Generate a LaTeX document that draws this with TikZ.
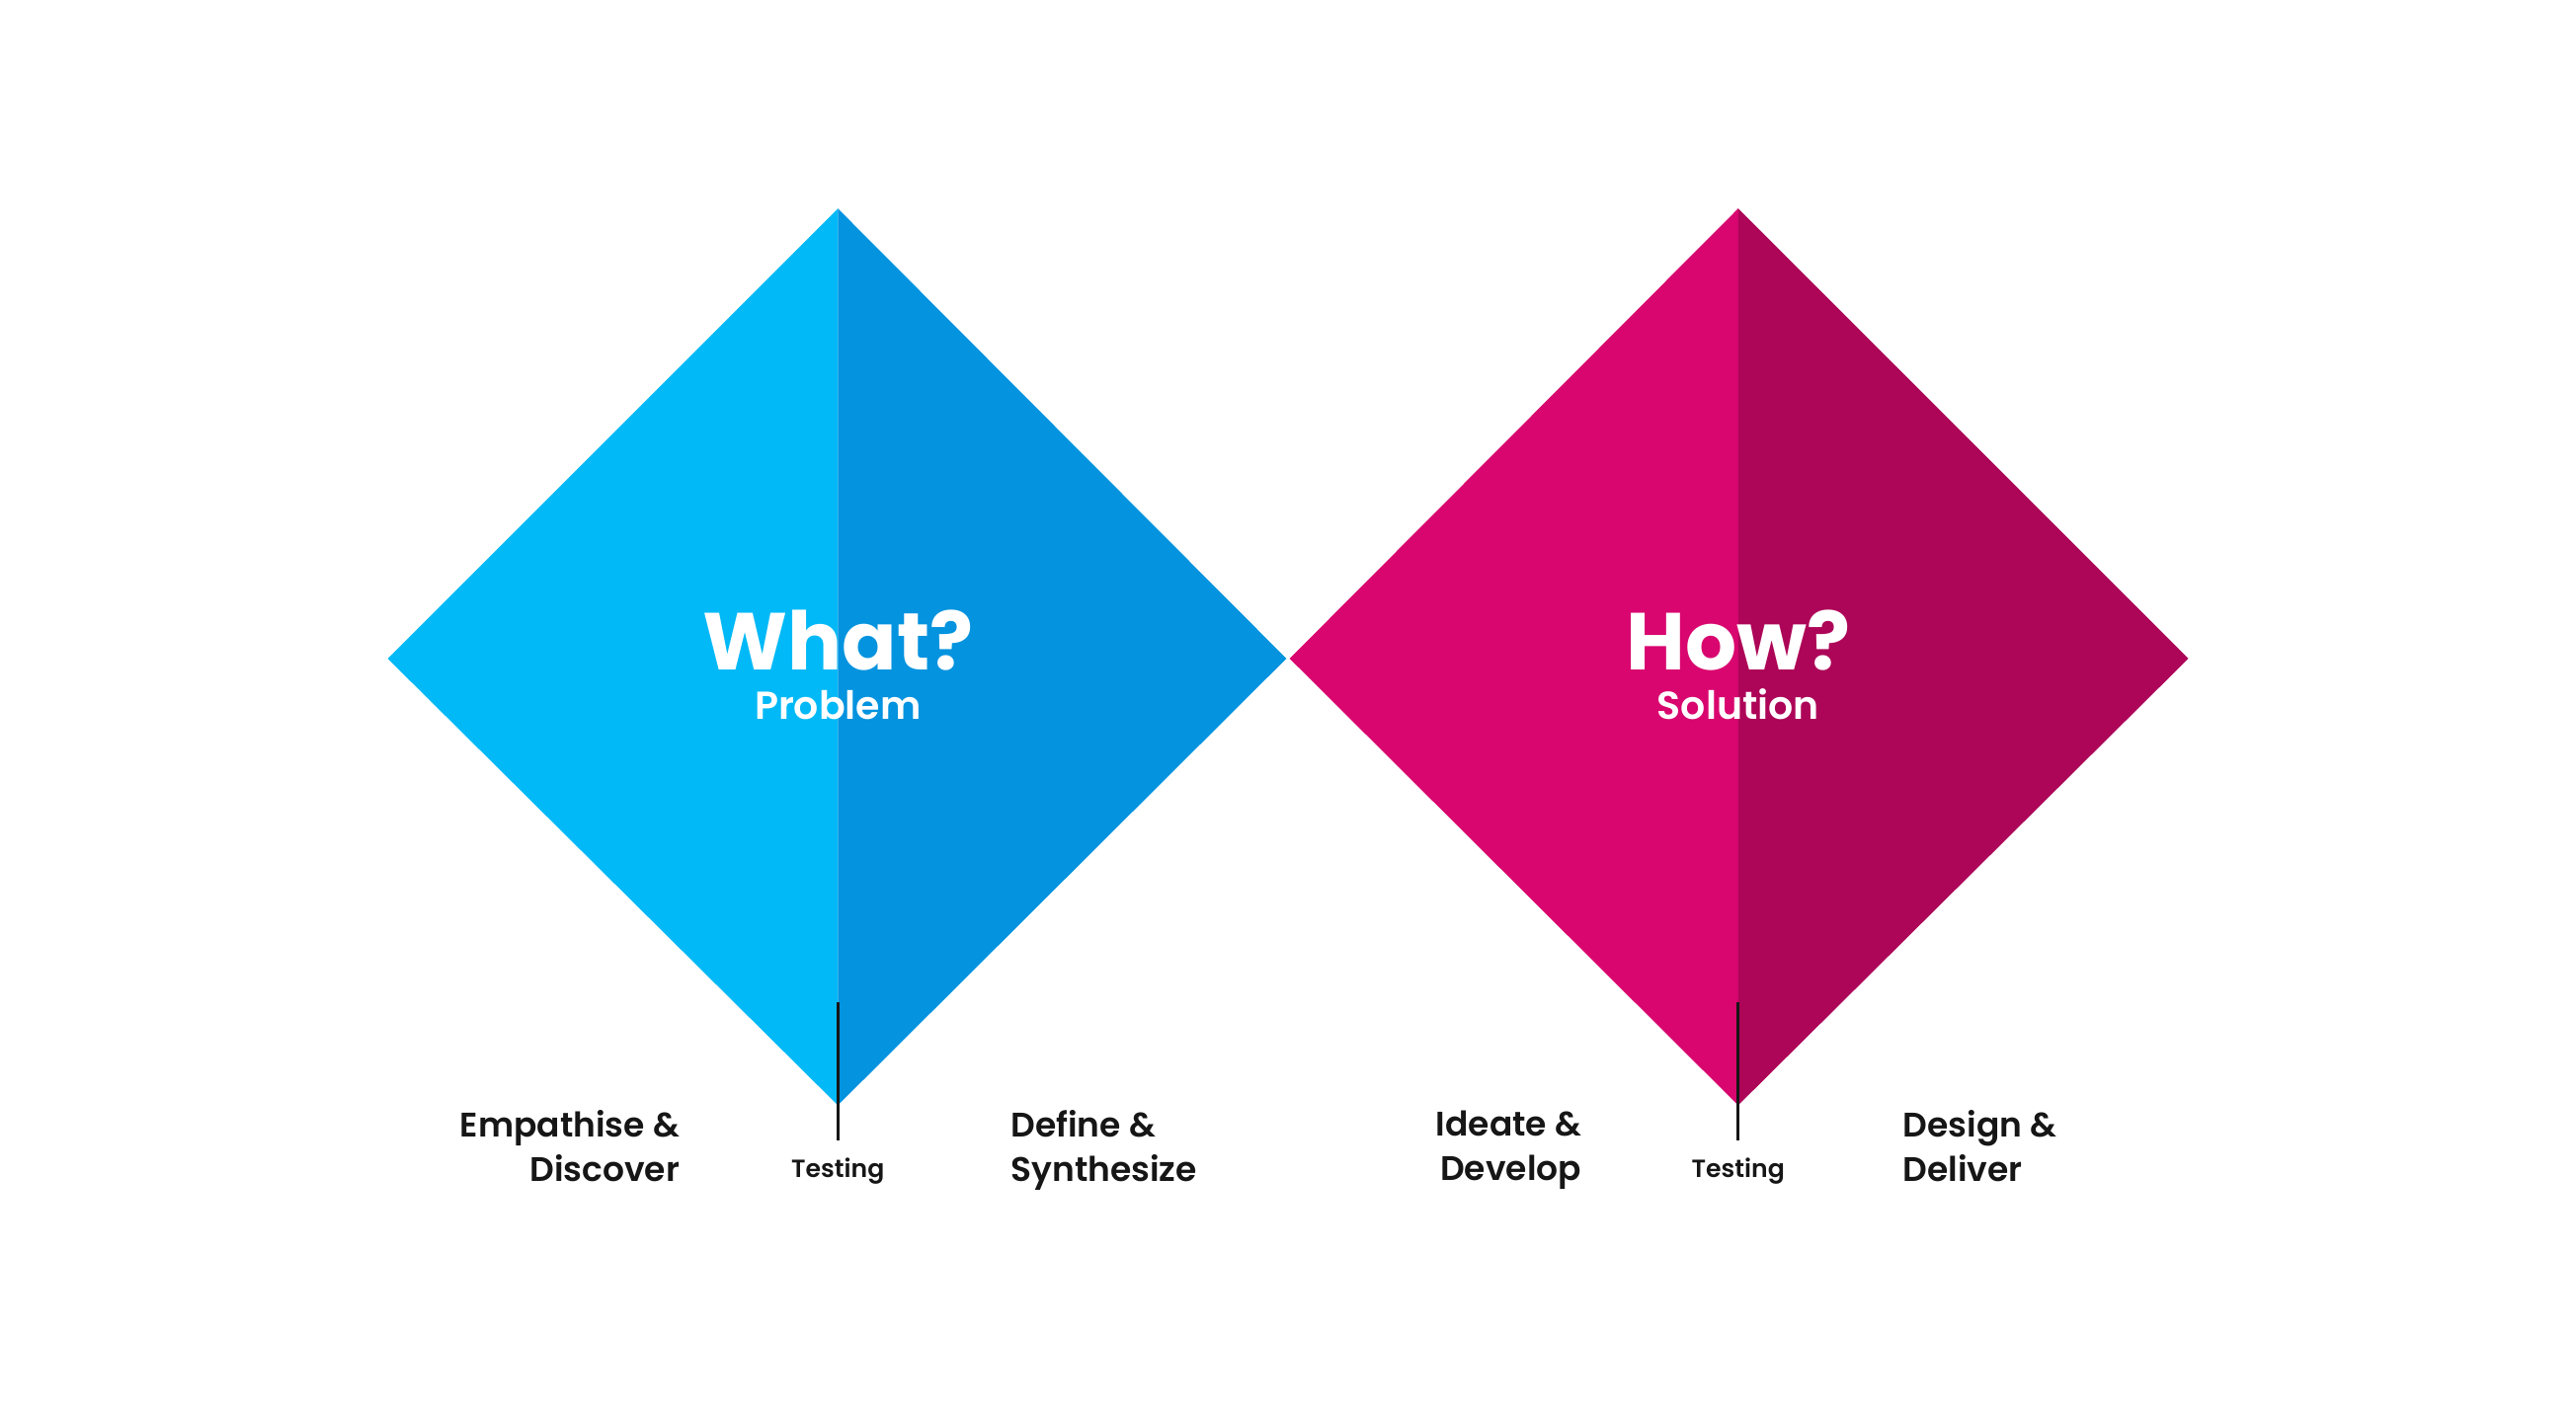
\documentclass[tikz,border=0pt]{standalone}
\usepackage{fontspec}
\setmainfont{Poppins}
\newfontfamily\semibold{Poppins SemiBold}
\definecolor{skyblue}{HTML}{02B9F7}
\definecolor{deepblue}{HTML}{0393DF}
\definecolor{rosepink}{HTML}{D9066F}
\definecolor{plum}{HTML}{AD0558}
\definecolor{ink}{HTML}{161616}

\begin{document}
\begin{tikzpicture}[x=0.02cm,y=0.02cm,
    question/.style={text=white,inner sep=0pt,anchor=base,font=\bfseries\fontsize{28}{28}\selectfont},
    topic/.style={text=white,inner sep=0pt,anchor=base,font=\semibold\fontsize{13.5}{13.5}\selectfont},
    phase/.style={text=ink,inner sep=0pt,font=\semibold\fontsize{11.8}{15.3}\selectfont},
    testlabel/.style={text=ink,inner sep=0pt,outer sep=6pt,font=\semibold\fontsize{8.6}{10}\selectfont},
    testline/.style={draw=ink,line width=1.1pt}]
    \useasboundingbox (0,0) rectangle (1568,859);
    % problem diamond
    \fill[skyblue] (236,458) -- (510,732) -- (510,186) -- cycle;
    \fill[deepblue] (510,732) -- (783,458) -- (510,186) -- cycle;
    % solution diamond
    \fill[rosepink] (785,458) -- (1058,732) -- (1058,186) -- cycle;
    \fill[plum] (1058,732) -- (1332,458) -- (1058,186) -- cycle;
    \node[question] (what) at (510,451) {What?};
    \node[topic] (problem) at (510,421) {Problem};
    \node[question] (how) at (1058,451) {How?};
    \node[topic] (solution) at (1058,421) {Solution};
    % phases
    \node[phase,anchor=north east,align=right] (empathise) at (414,183) {Empathise \&\\Discover};
    \node[phase,anchor=north west,align=left] (define) at (615,183) {Define \&\\Synthesize};
    \node[phase,anchor=north east,align=right] (ideate) at (963,183) {Ideate \&\\Develop};
    \node[phase,anchor=north west,align=left] (design) at (1158,183) {Design \&\\Deliver};
    % testing
    \coordinate (tipA) at (510,249);
    \coordinate (tipB) at (1058,249);
    \node[testlabel] (testA) at (510,146) {Testing};
    \node[testlabel] (testB) at (1058,146) {Testing};
    \draw[testline] (tipA) -- (testA.north);
    \draw[testline] (tipB) -- (testB.north);
\end{tikzpicture}
\end{document}
